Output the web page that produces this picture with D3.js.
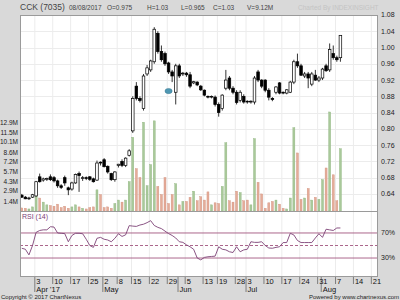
<!DOCTYPE html>
<html>
<head>
<meta charset="utf-8">
<script src="https://cdn.jsdelivr.net/npm/d3@7"></script>
<style>
  body { margin: 0; background: #d9d9d9; }
  svg { display: block; font-family: Arial, "Liberation Sans", sans-serif; }
</style>
</head>
<body>
<svg id="chart"></svg>
<script>
// exchange holidays in the range (no bars on these days)
var holidays = ["2017-04-24", "2017-05-01", "2017-05-10", "2017-06-12", "2017-06-26", "2017-06-27"];

// daily OHLC, Mar 28 -> Aug 8 2017
var open = [0.637, 0.632, 0.628, 0.632, 0.635, 0.682, 0.674, 0.676, 0.682, 0.68,
  0.672, 0.66, 0.68, 0.655, 0.652, 0.667, 0.69, 0.678, 0.68, 0.682,
  0.677, 0.674, 0.718, 0.724, 0.708, 0.69, 0.675, 0.71, 0.72, 0.71,
  0.735, 0.795, 0.905, 0.875, 0.85, 0.935, 0.945, 0.965, 1.035, 0.99,
  0.985, 0.962, 0.94, 0.89, 0.955, 0.935, 0.937, 0.933, 0.913, 0.915,
  0.905, 0.895, 0.88, 0.878, 0.878, 0.86, 0.85, 0.9, 0.925, 0.9,
  0.89, 0.87, 0.88, 0.868, 0.866, 0.866, 0.94, 0.92, 0.92, 0.895,
  0.875, 0.89, 0.913, 0.89, 0.888, 0.89, 0.915, 0.965, 0.955, 0.93,
  0.935, 0.91, 0.932, 0.92, 0.925, 0.955, 0.945, 0.985, 0.975, 0.975];
var high = [0.64, 0.635, 0.633, 0.64, 0.672, 0.69, 0.68, 0.68, 0.688, 0.684,
  0.675, 0.664, 0.685, 0.658, 0.67, 0.69, 0.695, 0.684, 0.683, 0.684,
  0.68, 0.722, 0.72, 0.728, 0.71, 0.692, 0.696, 0.714, 0.725, 0.73,
  0.75, 0.88, 0.915, 0.88, 0.935, 0.957, 0.97, 1.05, 1.04, 1.005,
  0.99, 0.965, 0.945, 0.96, 0.96, 0.94, 0.94, 0.94, 0.918, 0.917,
  0.908, 0.897, 0.882, 0.882, 0.882, 0.865, 0.885, 0.945, 0.93, 0.905,
  0.895, 0.895, 0.885, 0.87, 0.87, 0.93, 0.945, 0.922, 0.922, 0.9,
  0.878, 0.905, 0.915, 0.892, 0.898, 0.918, 0.97, 0.985, 0.96, 0.94,
  0.94, 0.94, 0.945, 0.93, 0.95, 0.96, 1.01, 1.005, 0.98, 1.03];
var low = [0.63, 0.627, 0.625, 0.63, 0.633, 0.668, 0.67, 0.672, 0.672, 0.668,
  0.655, 0.652, 0.66, 0.637, 0.648, 0.665, 0.645, 0.672, 0.674, 0.672,
  0.668, 0.672, 0.71, 0.705, 0.69, 0.672, 0.67, 0.705, 0.706, 0.706,
  0.732, 0.79, 0.87, 0.865, 0.845, 0.93, 0.94, 0.96, 0.985, 0.965,
  0.955, 0.935, 0.915, 0.86, 0.925, 0.93, 0.928, 0.9, 0.91, 0.905,
  0.893, 0.88, 0.875, 0.875, 0.855, 0.83, 0.845, 0.895, 0.895, 0.885,
  0.86, 0.865, 0.862, 0.862, 0.862, 0.86, 0.915, 0.9, 0.89, 0.87,
  0.868, 0.885, 0.885, 0.885, 0.885, 0.888, 0.91, 0.95, 0.93, 0.925,
  0.9, 0.905, 0.918, 0.915, 0.92, 0.94, 0.94, 0.97, 0.965, 0.965];
var close = [0.632, 0.628, 0.63, 0.638, 0.67, 0.67, 0.677, 0.678, 0.675, 0.672,
  0.66, 0.656, 0.667, 0.65, 0.667, 0.688, 0.685, 0.68, 0.678, 0.676,
  0.67, 0.716, 0.716, 0.707, 0.694, 0.675, 0.694, 0.713, 0.71, 0.728,
  0.746, 0.875, 0.875, 0.87, 0.93, 0.95, 0.967, 1.045, 0.99, 0.97,
  0.96, 0.94, 0.93, 0.955, 0.93, 0.937, 0.933, 0.905, 0.916, 0.908,
  0.896, 0.883, 0.878, 0.88, 0.86, 0.84, 0.883, 0.92, 0.9, 0.89,
  0.865, 0.89, 0.866, 0.866, 0.868, 0.925, 0.92, 0.905, 0.895, 0.878,
  0.872, 0.903, 0.888, 0.888, 0.896, 0.915, 0.965, 0.955, 0.932, 0.935,
  0.925, 0.935, 0.92, 0.925, 0.947, 0.943, 0.995, 0.975, 0.97, 1.03];
// volume in millions
var volume = [0.45, 0.4, 0.3, 0.6, 2.1, 1.9, 1.3, 0.9, 0.8, 0.7,
  1.0, 0.5, 0.7, 0.4, 0.6, 0.9, 0.6, 0.4, 0.3, 0.5,
  0.6, 3.1, 2.4, 0.5, 0.6, 0.4, 1.1, 1.6, 1.3, 1.6,
  4.3, 10.8, 6.2, 4.9, 13.0, 3.7, 6.8, 13.2, 3.6, 2.4,
  4.9, 1.1, 2.4, 4.0, 0.9, 1.4, 1.4, 2.0, 2.9, 1.5,
  2.1, 1.6, 2.8, 0.9, 1.2, 1.1, 3.6, 10.0, 1.5, 1.3,
  2.9, 2.7, 1.5, 1.6, 0.9, 10.6, 4.2, 2.5, 0.4, 1.2,
  1.4, 1.6, 1.0, 0.4, 0.3, 1.9, 12.2, 8.5, 1.7, 1.9,
  3.3, 1.6, 2.0, 1.7, 4.6, 6.3, 14.5, 5.3, 1.5, 9.12];
var rsi = [45.6, 44, 35, 50, 71, 74, 75, 75, 80, 79.5,
  70, 69.5, 69, 56, 66, 69.5, 69.5, 68.8, 60, 50,
  47, 61.5, 63, 60, 58.8, 56, 61.5, 68.8, 64.5, 67,
  81.7, 81, 80.5, 82.7, 84, 86.5, 89.7, 82, 79, 77,
  73, 69, 66, 62, 56, 55, 51, 48, 44, 30,
  27, 31, 32, 32.5, 33, 48, 44, 43, 40, 38.8,
  48, 40, 43, 44, 56, 55, 55, 56, 50, 46,
  45.6, 47, 48, 54.7, 54.7, 69.5, 66.8, 58, 54.7, 54.7,
  54.7, 54.7, 62, 68.8, 63, 76, 75, 74, 78, 78];

var priceTicks = [0.64, 0.68, 0.72, 0.76, 0.80, 0.84, 0.88, 0.92, 0.96, 1.00, 1.04, 1.08];
var volTicks = [1.4, 2.9, 4.3, 5.7, 7.2, 8.6, 10.1, 11.5, 12.9];
var rsiLevels = [30, 50, 70];
// blue event marker
var markerIndex = 41, markerPrice = 0.893;

var w = 400, h = 300;
var pad = { left: 20, right: 378, top: 15, mid: 211, bottom: 277 };

var fmt = d3.timeFormat("%Y-%m-%d");
// trading days incl. the empty ones at the right end
var days = d3.timeDay.range(new Date(2017, 2, 28), new Date(2017, 7, 23))
  .filter(function(d) {
    return d.getDay() > 0 && d.getDay() < 6 && holidays.indexOf(fmt(d)) < 0;
  });

var svg = d3.select("#chart").attr("width", w).attr("height", h);

svg.append("rect").attr("width", w).attr("height", h).attr("fill", "#d9d9d9");
svg.append("rect")
  .attr("x", pad.left).attr("y", pad.top)
  .attr("width", pad.right - pad.left).attr("height", pad.bottom - pad.top)
  .attr("fill", "#fff");

var x = d3.scaleBand().domain(d3.range(days.length)).range([pad.left, pad.right]);
var bw = x.bandwidth();
function cx(i) { return x(i) + bw / 2; }

var y = d3.scaleLinear().domain([0.598, 1.08]).range([pad.mid, pad.top]);
var yVol = d3.scaleLinear().domain([0, 28.7]).range([pad.mid, pad.top]);
var yRsi = d3.scaleLinear().domain([0, 100]).range([276.8, 214.2]);

// week and month ticks
var weekTicks = [], monthTicks = [];
days.forEach(function(d, i) {
  if (i == 0) return;
  var p = days[i - 1];
  if (+d3.timeMonday.floor(d) != +d3.timeMonday.floor(p)) weekTicks.push(i);
  if (d.getMonth() != p.getMonth()) monthTicks.push(i);
});

//grid
svg.selectAll("line.vgrid")
  .data(weekTicks)
  .enter().append("line")
  .attr("x1", function(i) { return x(i) + 0.5; })
  .attr("x2", function(i) { return x(i) + 0.5; })
  .attr("y1", pad.top).attr("y2", pad.bottom)
  .attr("stroke", "#ececec");

svg.selectAll("line.hgrid")
  .data(priceTicks)
  .enter().append("line")
  .attr("x1", pad.left).attr("x2", pad.right)
  .attr("y1", function(d) { return Math.round(y(d)) + 0.5; })
  .attr("y2", function(d) { return Math.round(y(d)) + 0.5; })
  .attr("stroke", "#ececec");

// volume bars
svg.selectAll("rect.vol")
  .data(volume)
  .enter().append("rect")
  .attr("x", function(d, i) { return cx(i) - 1; })
  .attr("y", function(d) { return yVol(d); })
  .attr("width", 2)
  .attr("height", function(d) { return pad.mid - yVol(d); })
  .attr("fill", function(d, i) { return close[i] >= open[i] ? "#a9c99a" : "#e5ac99"; })
  .attr("stroke", function(d, i) { return close[i] >= open[i] ? "#8fb47f" : "#d0927e"; })
  .attr("stroke-width", 0.4);

// candles
var candles = svg.selectAll("g.candle")
  .data(open)
  .enter().append("g");

candles.append("line")
  .attr("x1", function(d, i) { return cx(i); })
  .attr("x2", function(d, i) { return cx(i); })
  .attr("y1", function(d, i) { return y(high[i]); })
  .attr("y2", function(d, i) { return y(low[i]); })
  .attr("stroke", "#000")
  .attr("stroke-width", 0.8);

candles.append("rect")
  .attr("x", function(d, i) { return cx(i) - 1.3; })
  .attr("y", function(d, i) { return y(Math.max(open[i], close[i])); })
  .attr("width", 2.6)
  .attr("height", function(d, i) {
    return Math.max(0.8, Math.abs(y(open[i]) - y(close[i])));
  })
  .attr("fill", function(d, i) { return close[i] >= open[i] ? "#fff" : "#000"; })
  .attr("stroke", "#000")
  .attr("stroke-width", 0.7);

svg.append("ellipse")
  .attr("cx", cx(markerIndex))
  .attr("cy", y(markerPrice))
  .attr("rx", 3.6).attr("ry", 2.6)
  .attr("fill", "#4f98b3")
  .attr("stroke", "#3a7890")
  .attr("stroke-width", 0.5);

// RSI panel
svg.append("line")
  .attr("x1", pad.left).attr("x2", pad.right)
  .attr("y1", pad.mid + 0.5).attr("y2", pad.mid + 0.5)
  .attr("stroke", "#9a9a9a");

svg.selectAll("line.lvl")
  .data(rsiLevels)
  .enter().append("line")
  .attr("x1", pad.left).attr("x2", pad.right)
  .attr("y1", function(d) { return yRsi(d); })
  .attr("y2", function(d) { return yRsi(d); })
  .attr("stroke", "#a2567f")
  .attr("stroke-width", 0.9)
  .attr("stroke-dasharray", function(d) { return d == 50 ? "3,2" : null; });

svg.append("path")
  .datum(rsi)
  .attr("fill", "none")
  .attr("stroke", "#7d4276")
  .attr("stroke-width", 0.9)
  .attr("d", d3.line()
    .x(function(d, i) { return cx(i); })
    .y(function(d) { return yRsi(d); }));

svg.append("text")
  .text("RSI (14)")
  .attr("x", 22).attr("y", 218.5)
  .attr("font-size", "7px")
  .attr("fill", "#7d4276");

svg.selectAll("text.lvl")
  .data([30, 70])
  .enter().append("text")
  .text(function(d) { return d + "%"; })
  .attr("x", 381)
  .attr("y", function(d) { return yRsi(d); })
  .attr("dy", "0.35em")
  .attr("font-size", "7px")
  .attr("fill", "#222");

// frame
svg.append("rect")
  .attr("x", pad.left + 0.5).attr("y", pad.top + 0.5)
  .attr("width", pad.right - pad.left - 1).attr("height", pad.bottom - pad.top - 1)
  .attr("fill", "none")
  .attr("stroke", "#9a9a9a");

// price axis (right)
svg.selectAll("text.price")
  .data(priceTicks)
  .enter().append("text")
  .text(function(d) { return d.toFixed(2); })
  .attr("x", 381)
  .attr("y", function(d) { return y(d); })
  .attr("dy", "0.35em")
  .attr("font-size", "7px")
  .attr("fill", "#222");

// volume axis (left)
svg.selectAll("text.vol")
  .data(volTicks)
  .enter().append("text")
  .text(function(d) { return d.toFixed(1) + "M"; })
  .attr("x", 18)
  .attr("y", function(d) { return yVol(d); })
  .attr("dy", "0.35em")
  .attr("text-anchor", "end")
  .attr("font-size", "6.5px")
  .attr("fill", "#222");

// time axis
svg.selectAll("line.wk")
  .data(weekTicks)
  .enter().append("line")
  .attr("x1", function(i) { return x(i) + 0.5; })
  .attr("x2", function(i) { return x(i) + 0.5; })
  .attr("y1", pad.bottom)
  .attr("y2", function(i) { return monthTicks.indexOf(i) >= 0 ? 292 : 284; })
  .attr("stroke", "#555")
  .attr("stroke-width", 0.7);

svg.selectAll("line.mo")
  .data(monthTicks.filter(function(i) { return weekTicks.indexOf(i) < 0; }))
  .enter().append("line")
  .attr("x1", function(i) { return x(i) + 0.5; })
  .attr("x2", function(i) { return x(i) + 0.5; })
  .attr("y1", pad.bottom).attr("y2", 292)
  .attr("stroke", "#555")
  .attr("stroke-width", 0.7);

svg.selectAll("text.wk")
  .data(weekTicks)
  .enter().append("text")
  .text(function(i) { return days[i].getDate(); })
  .attr("x", function(i) { return x(i) + 2; })
  .attr("y", 284)
  .attr("font-size", "7.5px")
  .attr("fill", "#111");

var monthFmt = d3.timeFormat("%b");
svg.selectAll("text.mo")
  .data(monthTicks)
  .enter().append("text")
  .text(function(i) {
    return days[i].getMonth() == 3 ? "Apr '17" : monthFmt(days[i]);
  })
  .attr("x", function(i) { return x(i) + 2; })
  .attr("y", 292)
  .attr("font-size", "7.5px")
  .attr("fill", "#111");

// header
var header = [
  ["CCK (7035)", 20, "8.5px"],
  ["08/08/2017", 69, "6.5px"],
  ["O=0.975", 107, "6.5px"],
  ["H=1.03", 147, "6.5px"],
  ["L=0.965", 181, "6.5px"],
  ["C=1.03", 213, "6.5px"],
  ["V=9.12M", 247, "6.5px"]
];
header.forEach(function(t) {
  svg.append("text")
    .text(t[0])
    .attr("x", t[1]).attr("y", 10)
    .attr("font-size", t[2])
    .attr("fill", "#444");
});
svg.append("text")
  .text("Charted By INDEXINSIGHT")
  .attr("x", 298).attr("y", 10)
  .attr("font-size", "6.5px")
  .attr("fill", "#c4c4c4");

svg.append("text")
  .text("Copyright \u00a9 2017 ChartNexus")
  .attr("x", 1).attr("y", 299)
  .attr("font-size", "6px")
  .attr("fill", "#222");
svg.append("text")
  .text("Powered by www.chartnexus.com")
  .attr("x", 399).attr("y", 299)
  .attr("text-anchor", "end")
  .attr("font-size", "6px")
  .attr("fill", "#222");
</script>
</body>
</html>
